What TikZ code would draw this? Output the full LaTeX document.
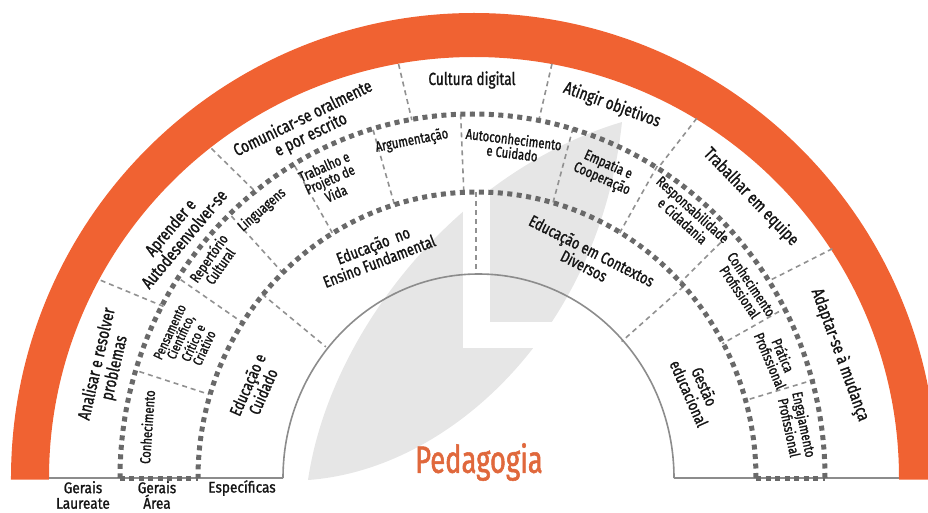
\documentclass[tikz,border=0pt]{standalone}
\usepackage{fontspec}
\setmainfont{Fira Sans}[FakeStretch=0.78,FakeBold=1.2]
\newfontfamily\pedfont{Fira Sans}[FakeStretch=0.72,FakeBold=1.4]
\newfontfamily\botfont{Fira Sans}[FakeStretch=0.88,FakeBold=1.2]
\definecolor{orng}{RGB}{240,98,50}
\definecolor{pedc}{RGB}{224,104,60}
\definecolor{dotc}{RGB}{105,105,105}
\definecolor{dashc}{RGB}{145,145,145}
\definecolor{leafc}{RGB}{230,230,230}
\definecolor{arcc}{RGB}{140,140,140}
\definecolor{txt}{RGB}{20,20,20}
\begin{document}
\begin{tikzpicture}[x=1pt,y=1pt,
  l1/.style={font=\fontsize{17.5}{18}\selectfont, align=center, text=txt, inner sep=0pt},
  l2/.style={font=\fontsize{14.5}{14}\selectfont, align=center, text=txt, inner sep=0pt},
  l2s/.style={font=\fontsize{13.5}{12}\selectfont, align=center, text=txt, inner sep=0pt},
  l3/.style={font=\fontsize{16.5}{17}\selectfont, align=center, text=txt, inner sep=0pt},
  lb/.style={font=\botfont\fontsize{15.5}{15.5}\selectfont, align=center, text=txt, inner sep=0pt},
  dots/.style={draw=dotc, line width=5pt, dash pattern=on 5pt off 4.5pt},
  dashes/.style={draw=dashc, line width=1.6pt, dash pattern=on 5pt off 4pt},
  greyline/.style={draw=arcc, line width=1.6pt}]
\useasboundingbox (-476,-34) rectangle (452,478);
% background leaf
\fill[leafc] (-168,-2) .. controls (-146,148) and (-16,308) .. (146,356)
   .. controls (124,148) and (-26,8) .. (-168,-2) -- cycle;
\fill[white] (-13,130) rectangle (14,420);
\fill[white] (-13,130) rectangle (220,156);
% orange band
\fill[orng] (461,-1.5) -- (461,0) arc[start angle=0,end angle=180,x radius=463,y radius=465]
   -- (-465,-1.5) -- (-427,-1.5) -- (-427,0)
   arc[start angle=180,end angle=0,x radius=425,y radius=421] -- (423,-1.5) -- cycle;
% baselines
\draw[greyline] (-427,0) -- (-193,0);
\draw[greyline] (198,0) -- (423,0);
% dividers
\foreach \a in {152,128.5,100.5,79.7,58.7,33}
  \draw[dashes] (\a:425 and 421) -- (\a:352 and 364);
\foreach \a in {163,147,134,121,107,92.5,74,59,43,28,15.7}
  \draw[dashes] (\a:352 and 364) -- (\a:279 and 286);
\foreach \a in {140,90,42}
  \draw[dashes] (\a:279 and 286) -- (\a:196 and 204);
% inner grey arc
\draw[greyline] (198,0) arc[start angle=0,end angle=180,x radius=195.5,y radius=204];
% thick dotted rings
\draw[dots] (280,0) arc[start angle=0,end angle=180,x radius=279,y radius=286];
\draw[dots] (349,0) arc[start angle=0,end angle=180,x radius=352.5,y radius=364];
\draw[dots] (-356,0) -- (-278,0);
\draw[dots] (280,0) -- (349,0);
% ring 1
\node[l1, rotate=77] (analisar) at (-370,112) {Analisar e resolver\\problemas};
\node[l1, rotate=50] (aprender) at (-299,245) {Aprender e\\Autodesenvolver-se};
\node[l1, rotate=26] (comunicar) at (-169,351) {Comunicar-se oralmente\\e por escrito};
\node[l1] (cultura) at (-4,398) {Cultura digital};
\node[l1, rotate=-20] (atingir) at (136,373) {Atingir objetivos};
\node[l1, rotate=-46] (trabalhar) at (275,281) {Trabalhar em equipe};
\node[l1, rotate=-70] (adaptar) at (364,123) {Adaptar-se à mudança};
% ring 2
\node[l2, rotate=86] (conh) at (-329,51) {Conhecimento};
\node[l2s, rotate=65] (pens) at (-289,138) {Pensamento\\Científico,\\Crítico e\\Criativo};
\node[l2, rotate=55] (rep) at (-262,216) {Repertório\\Cultural};
\node[l2, rotate=41] (ling) at (-214,268) {Linguagens};
\node[l2, rotate=24] (trab) at (-146,298) {Trabalho e\\Projeto de\\Vida};
\node[l2, rotate=11] (arg) at (-64,337) {Argumentação};
\node[l2, rotate=-7] (auto) at (37,332) {Autoconhecimento\\e Cuidado};
\node[l2, rotate=-24] (emp) at (129,306) {Empatia e\\Cooperação};
\node[l2, rotate=-42] (resp) at (212,263) {Responsabilidade\\e Cidadania};
\node[l2, rotate=-56] (conhp) at (270,190) {Conhecimento\\Profissional};
\node[l2, rotate=-67] (prat) at (301,120) {Prática\\Profissional};
\node[l2, rotate=-78] (eng) at (321,52) {Engajamento\\Profissional};
% ring 3
\node[l3, rotate=66] (educ) at (-221,90) {Educação e\\Cuidado};
\node[l3, rotate=21] (ensino) at (-100,225) {Educação~~no\\Ensino Fundamental};
\node[l3, rotate=-27] (contx) at (112,220) {Educação em Contextos\\Diversos};
\node[l3, rotate=-66] (gest) at (221,88) {Gestão\\educacional};
% centre title
\node[font=\pedfont\fontsize{38}{40}\selectfont, text=pedc, inner sep=0pt] (ped) at (3,16) {Pedagogia};
% bottom labels
\node[lb] (gl) at (-393,-17) {Gerais\\Laureate};
\node[lb] (ga) at (-319,-17) {Gerais\\Área};
\node[lb] (esp) at (-234,-10) {Específicas};
\end{tikzpicture}
\end{document}
